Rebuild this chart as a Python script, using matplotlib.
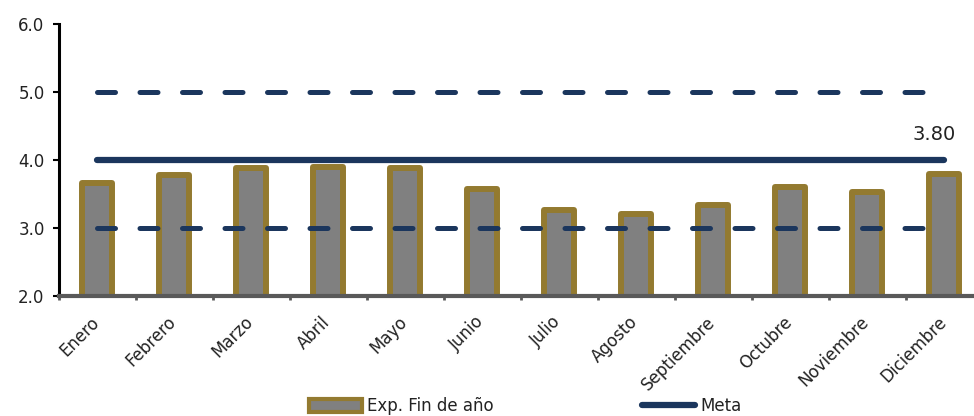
import matplotlib.pyplot as plt
from matplotlib.patches import Patch
from matplotlib.lines import Line2D

# datos
meses = ["Enero", "Febrero", "Marzo", "Abril", "Mayo", "Junio", "Julio",
         "Agosto", "Septiembre", "Octubre", "Noviembre", "Diciembre"]
exp_fin_anio = [3.66, 3.78, 3.88, 3.90, 3.88, 3.57, 3.26, 3.21, 3.34, 3.60, 3.53, 3.80]
meta = [4.0] * 12
rango_sup = [5.0] * 12
rango_inf = [3.0] * 12

azul = "#1b365d"
oro = "#937a30"
gris = "#808080"

plt.rcParams['font.family'] = ['DejaVu Sans']

fig = plt.figure(figsize=(9.74, 4.16), dpi=100)
ax = fig.add_axes([58.5 / 974, 120 / 416, 924 / 974, 272 / 416])

x = list(range(len(meses)))
ax.bar(x, exp_fin_anio, bottom=0, width=0.40, color=gris, edgecolor=oro,
       linewidth=4.3, joinstyle='round', zorder=2)

ax.plot(x, meta, color=azul, lw=4.5, solid_capstyle='round', zorder=3)
for serie in (rango_sup, rango_inf):
    ax.plot(x, serie, color=azul, lw=3.6, dashes=(3.6, 4.9),
            dash_capstyle='round', zorder=3)

# etiqueta del último dato
ax.text(11.15, 4.37, f"{exp_fin_anio[-1]:.2f}", ha='right', va='center',
        fontsize=14, color='#222222')

ax.set_xlim(-0.5, 11.5)
ax.set_ylim(2.0, 6.0)
ax.set_yticks([2.0, 3.0, 4.0, 5.0, 6.0])
ax.set_yticklabels([f"{v:.1f}" for v in [2.0, 3.0, 4.0, 5.0, 6.0]])

# etiquetas de meses giradas, a mano para fijar el ancla
ax.set_xticks([])
for i, mes in zip(x, meses):
    ax.annotate(mes, xy=(i, 0), xycoords=ax.get_xaxis_transform(),
                xytext=(2.2, -19.4), textcoords='offset points',
                rotation=45, rotation_mode='anchor', ha='right', va='baseline',
                fontsize=12, color='#222222', annotation_clip=False)
ax.set_xticks([i - 0.5 for i in range(13)], minor=True)
ax.tick_params(axis='x', which='minor', length=3, width=2, color='#595959')
ax.tick_params(axis='y', length=4, width=1.5, color='black', pad=6,
               labelsize=12, labelcolor='#222222')

for lado in ('top', 'right'):
    ax.spines[lado].set_visible(False)
ax.spines['left'].set_linewidth(2.2)
ax.spines['left'].set_color('black')
ax.spines['bottom'].set_linewidth(3)
ax.spines['bottom'].set_color('#595959')
ax.spines['bottom'].set_zorder(4)

handles = [Patch(facecolor=gris, edgecolor=oro, linewidth=3),
           Line2D([0], [0], color=azul, lw=4.5, solid_capstyle='round')]
fig.legend(handles, ["Exp. Fin de año", "Meta"], loc='center',
           bbox_to_anchor=(525 / 974, 1 - 406 / 416), ncol=2, frameon=False,
           fontsize=12, handlelength=3.2, handleheight=0.8, handletextpad=0.3,
           columnspacing=8.9, labelcolor='#222222')

fig.savefig("out.png", dpi=100)
